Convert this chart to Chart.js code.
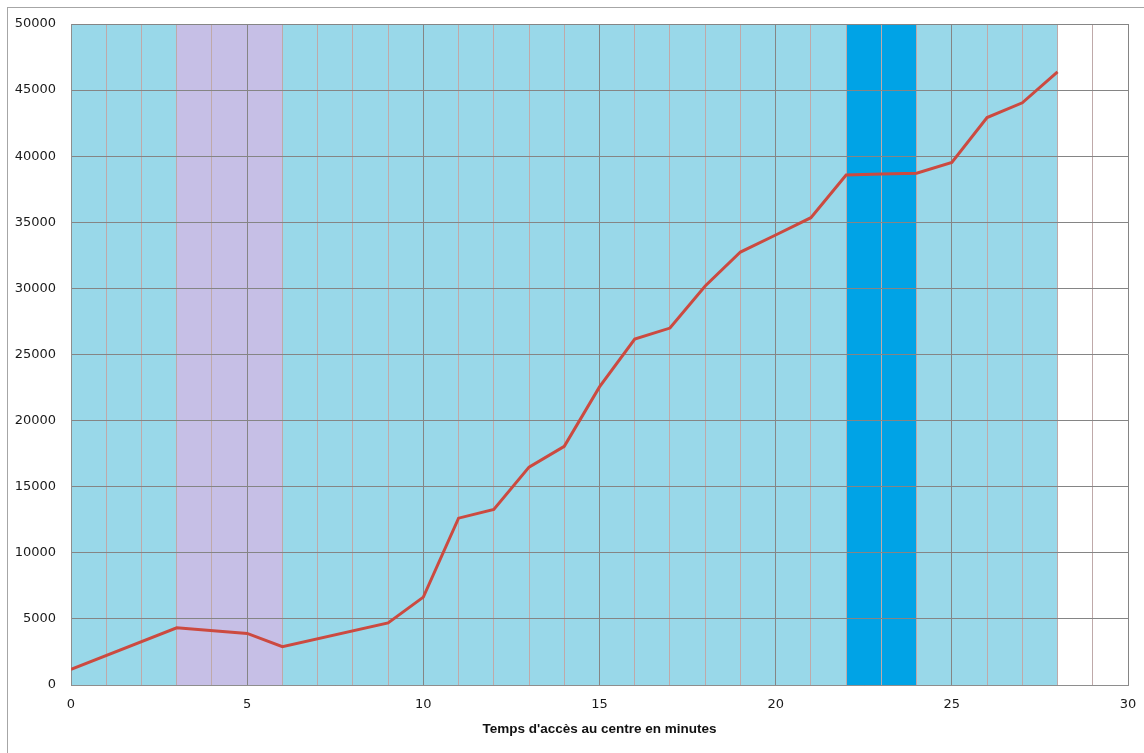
<!DOCTYPE html>
<html>
<head>
<meta charset="utf-8">
<script src="https://cdn.jsdelivr.net/npm/chart.js@4.4.1/dist/chart.umd.min.js"></script>
<style>
    html, body { margin: 0; padding: 0; background: #ffffff; overflow: hidden; }
    #frame { position: absolute; left: 7px; top: 7px; width: 1200px; height: 800px;
             border-left: 1px solid #a6a6a6; border-top: 1px solid #a6a6a6; }
    #wrap { position: absolute; left: 0; top: 0; width: 1144px; height: 753px; }
</style>
</head>
<body>
<div id="frame"></div>
<div id="wrap"><canvas id="chart"></canvas></div>
<script>
// Temps d'accès (minutes) et valeurs
const minutes = [0, 3, 5, 6, 9, 10, 11, 12, 13, 14, 15, 16, 17, 18, 19, 20, 21, 22, 23, 24, 25, 26, 27, 28];
const values = [1180, 4330, 3900, 2900, 4700, 6650, 12620, 13280, 16480, 18050, 22550, 26170, 27000, 30180, 32750, 34040, 35350, 38580, 38650, 38710, 39520, 42920, 44040, 46380];

// zones de fond (début, fin en minutes)
const bandStart = [0, 3, 22];
const bandEnd = [28, 6, 24];
const bandColors = ['#99d8e9', '#c6bfe6', '#00a3e6'];

const xTicks = [0, 5, 10, 15, 20, 25, 30];
const yTicks = [0, 5000, 10000, 15000, 20000, 25000, 30000, 35000, 40000, 45000, 50000];

// Draw the coloured bands under the grid
const bandsPlugin = {
    id: 'bands',
    beforeDraw(chart) {
        const { ctx, chartArea, scales } = chart;
        ctx.save();
        bandStart.forEach((s, i) => {
            const x1 = scales.x.getPixelForValue(s);
            const x2 = scales.x.getPixelForValue(bandEnd[i]);
            ctx.fillStyle = bandColors[i];
            ctx.fillRect(x1, chartArea.top, x2 - x1, chartArea.bottom - chartArea.top);
        });
        ctx.restore();
    }
};

Chart.defaults.font.family = "'DejaVu Sans', sans-serif";
Chart.defaults.color = '#1a1a1a';

new Chart(document.getElementById('chart'), {
    type: 'line',
    data: {
        datasets: [{
            data: minutes.map((m, i) => ({ x: m, y: values[i] })),
            borderColor: '#cc4a40',
            borderWidth: 3,
            pointRadius: 0,
            tension: 0,
            fill: false
        }]
    },
    options: {
        responsive: true,
        maintainAspectRatio: false,
        animation: false,
        layout: { padding: { top: 24, right: 16, left: 0, bottom: 0 } },
        plugins: { legend: { display: false }, tooltip: { enabled: false } },
        scales: {
            x: {
                type: 'linear',
                min: 0,
                max: 30,
                afterFit: (scale) => {
                    scale.height = 68;
                    scale.paddingLeft = 0;
                    scale.paddingRight = 0;
                },
                afterBuildTicks: (scale) => {
                    scale.ticks = [];
                    for (let v = 0; v <= 30; v++) scale.ticks.push({ value: v });
                },
                ticks: {
                    padding: 12,
                    maxRotation: 0,
                    autoSkip: false,
                    font: { size: 13 },
                    callback: (v) => xTicks.includes(v) ? String(v) : ''
                },
                grid: {
                    drawTicks: false,
                    color: (c) => (c.tick && c.tick.value % 5 === 0) ? '#858585' : '#bfa9a9'
                },
                border: { display: true, color: '#8e8e8e' },
                title: {
                    display: true,
                    text: "Temps d'accès au centre en minutes",
                    font: { family: "'Liberation Sans', sans-serif", size: 13.5, weight: 'bold' },
                    color: '#111111',
                    padding: { top: 0, bottom: 16 }
                }
            },
            y: {
                min: 0,
                max: 50000,
                afterFit: (scale) => { scale.width = 71; },
                afterBuildTicks: (scale) => { scale.ticks = yTicks.map((v) => ({ value: v })); },
                ticks: {
                    padding: 15,
                    font: { size: 13 },
                    callback: (v) => String(v)
                },
                grid: { drawTicks: false, color: '#858585' },
                border: { display: true, color: '#8e8e8e' }
            }
        }
    },
    plugins: [bandsPlugin]
});
</script>
</body>
</html>
